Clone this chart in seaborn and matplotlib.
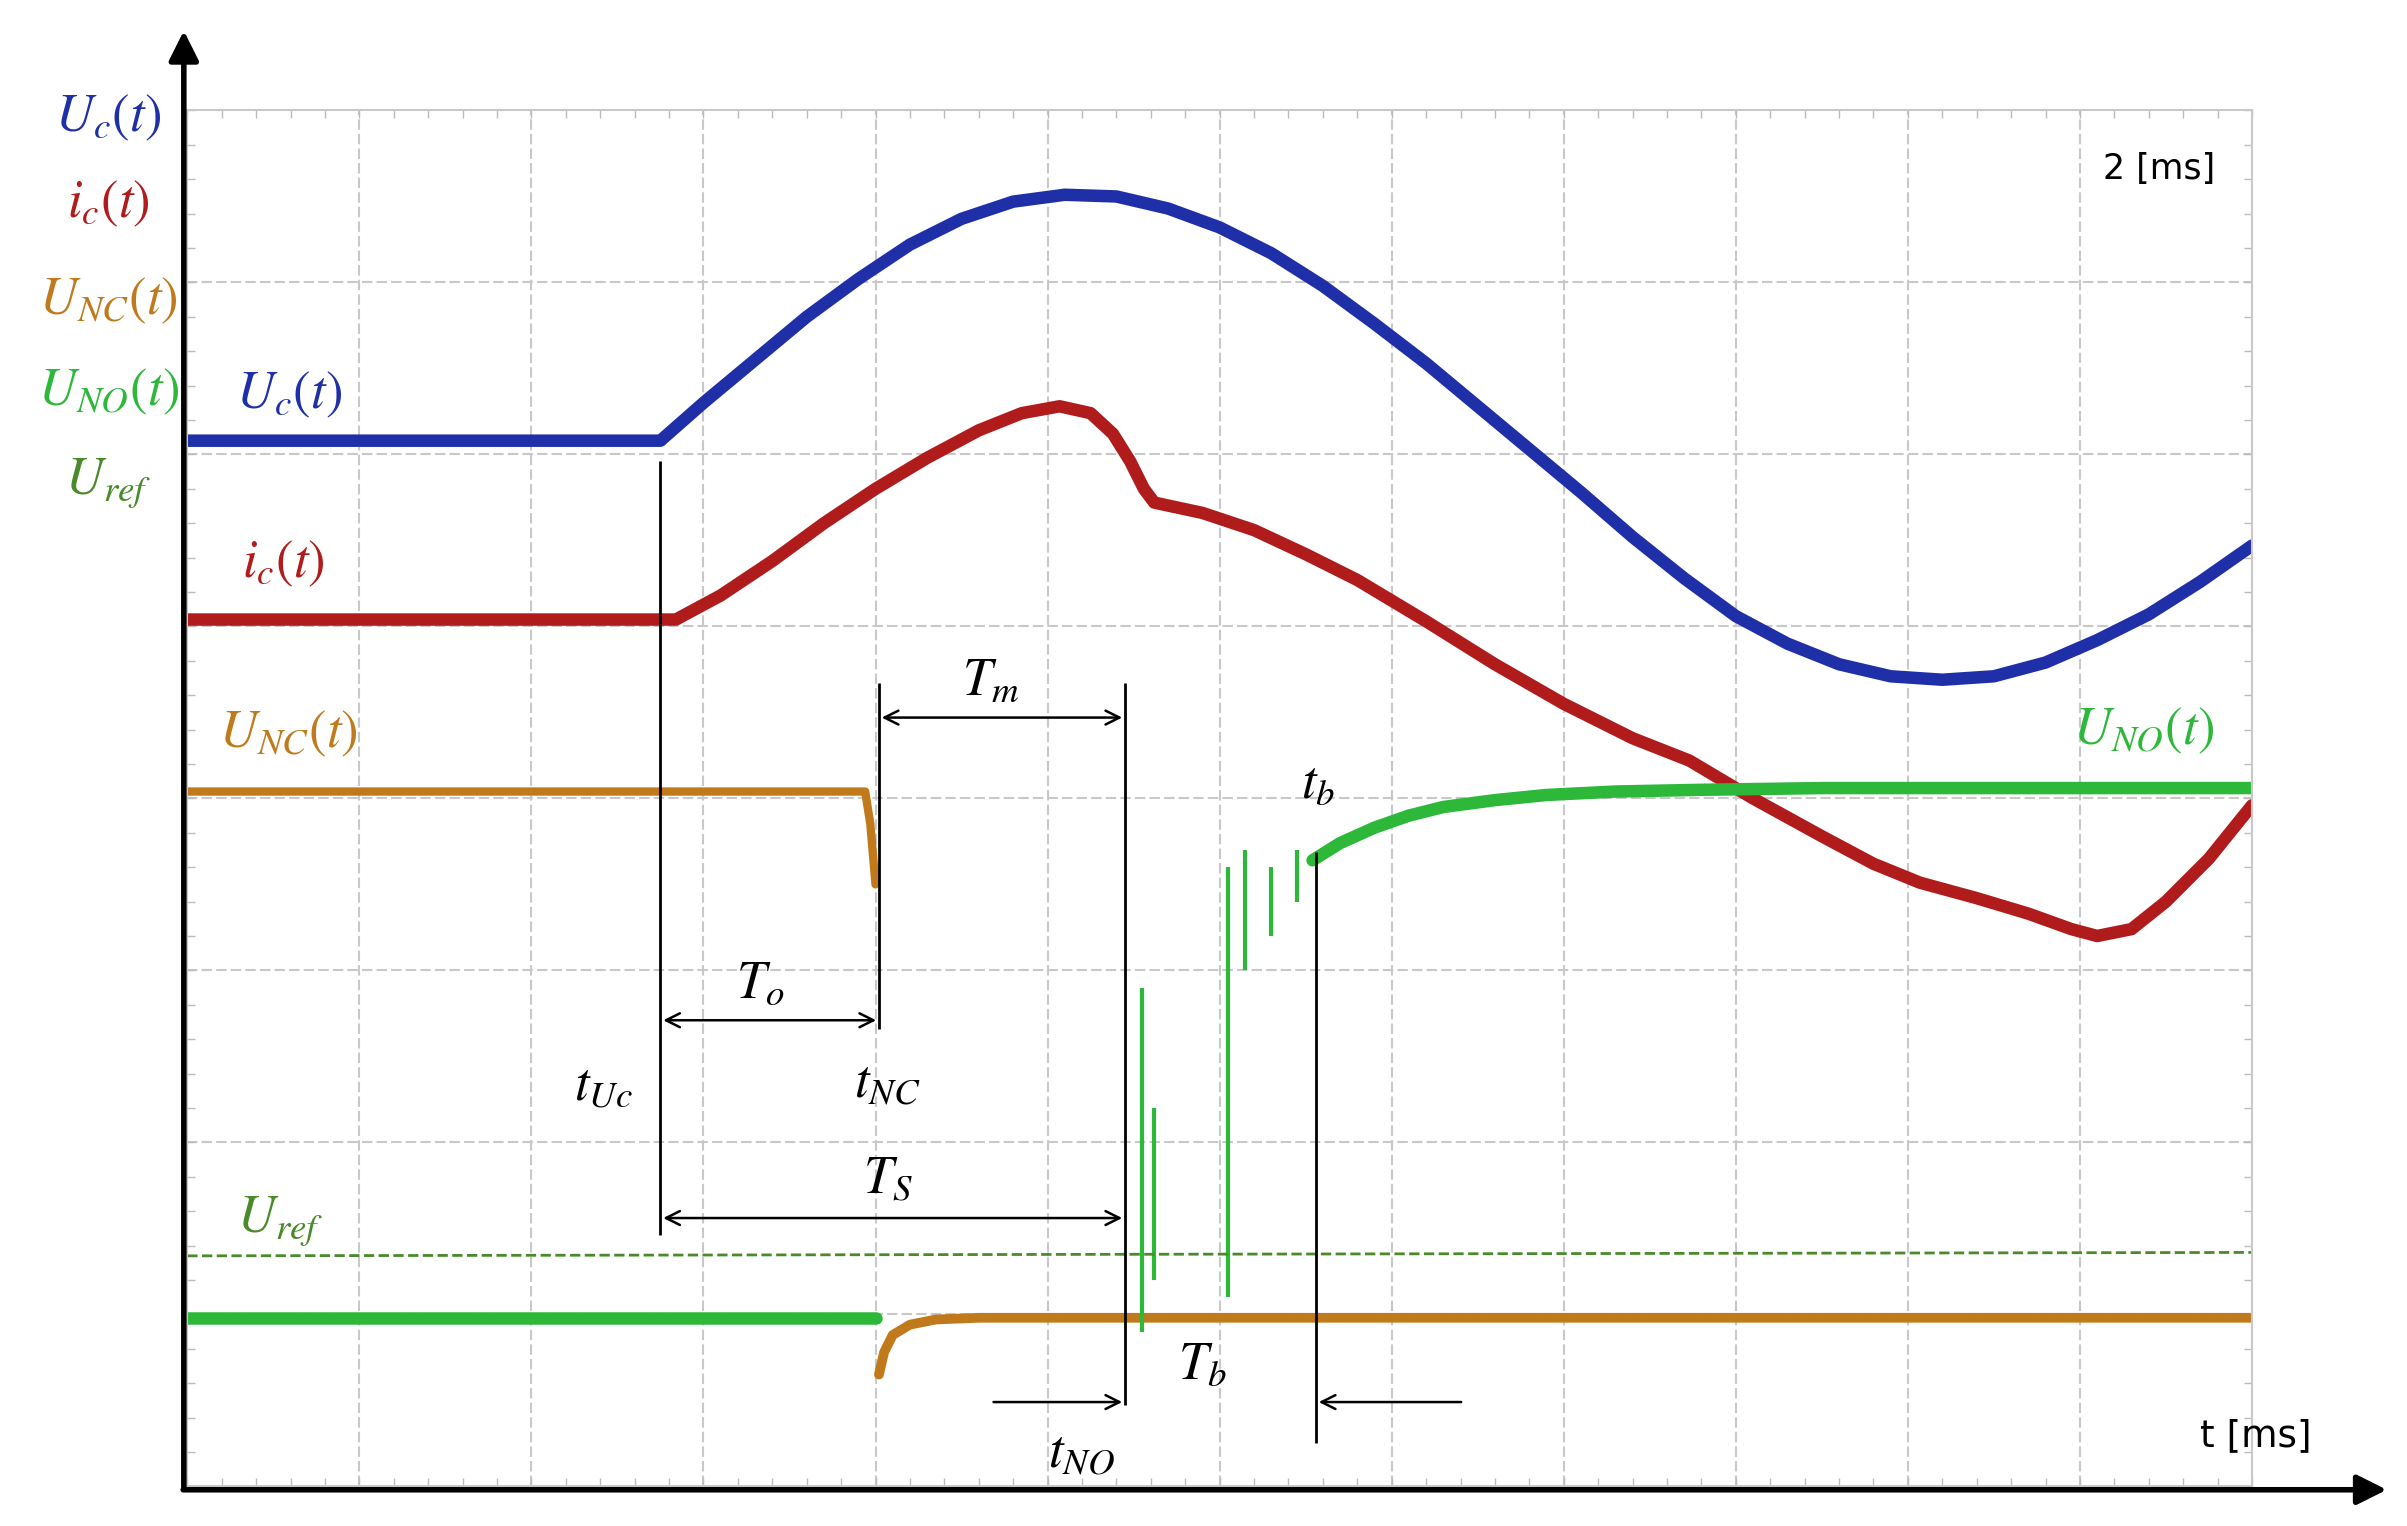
import matplotlib
matplotlib.use("Agg")
import matplotlib.pyplot as plt
import seaborn as sns
import numpy as np

sns.set_theme(style="white")
plt.rcParams['font.family'] = ['DejaVu Sans']
plt.rcParams['mathtext.fontset'] = 'stix'

uc_x = [0, 2.75, 3.0, 3.3, 3.6, 3.9, 4.2, 4.5, 4.8, 5.1, 5.4, 5.7, 6.0, 6.3, 6.6, 6.9, 7.2, 7.5, 7.8, 8.1, 8.4, 8.7, 9.0, 9.3, 9.6, 9.9, 10.2, 10.5, 10.8, 11.1, 11.4, 11.7, 12]
uc_y = [6.08, 6.08, 6.3, 6.55, 6.8, 7.02, 7.22, 7.37, 7.47, 7.51, 7.5, 7.43, 7.32, 7.17, 6.98, 6.76, 6.53, 6.28, 6.03, 5.78, 5.52, 5.28, 5.06, 4.9, 4.78, 4.71, 4.69, 4.71, 4.79, 4.92, 5.07, 5.26, 5.47]
ic_x = [0, 2.84, 3.1, 3.4, 3.7, 4.0, 4.3, 4.6, 4.85, 5.07, 5.25, 5.38, 5.48, 5.56, 5.62, 5.9, 6.2, 6.5, 6.8, 7.2, 7.6, 8.0, 8.4, 8.73, 9.1, 9.5, 9.8, 10.07, 10.4, 10.7, 10.95, 11.1, 11.3, 11.5, 11.75, 12]
ic_y = [5.04, 5.04, 5.18, 5.38, 5.6, 5.8, 5.98, 6.14, 6.24, 6.28, 6.24, 6.12, 5.96, 5.8, 5.72, 5.66, 5.56, 5.42, 5.27, 5.03, 4.78, 4.55, 4.35, 4.22, 4.0, 3.78, 3.62, 3.51, 3.42, 3.33, 3.24, 3.2, 3.24, 3.4, 3.65, 3.96]
unc_hi_x = [0, 3.94, 3.97, 4.0]
unc_hi_y = [4.04, 4.04, 3.85, 3.5]
unc_lo_x = [4.02, 4.05, 4.1, 4.2, 4.35, 4.6, 12]
unc_lo_y = [0.65, 0.78, 0.88, 0.94, 0.97, 0.98, 0.98]
uno_low_x = [0, 4.0]
uno_low_y = [0.98, 0.98]
uno_high_x = [6.54, 6.7, 6.9, 7.1, 7.3, 7.6, 7.9, 8.3, 8.8, 9.5, 12]
uno_high_y = [3.64, 3.74, 3.83, 3.9, 3.95, 3.99, 4.02, 4.04, 4.05, 4.06, 4.06]
spike_x = [5.55, 5.62, 6.05, 6.15, 6.3, 6.45]
spike_lo = [0.9, 1.2, 1.1, 3.0, 3.2, 3.4]
spike_hi = [2.9, 2.2, 3.6, 3.7, 3.6, 3.7]
uref_x = [0, 12]
uref_y = [1.34, 1.36]

C_UC, C_IC, C_NC, C_NO, C_REF = '#1f2fa8', '#b01c1c', '#c07a1c', '#2db83a', '#4a8a2a'

fig = plt.figure(figsize=(24.07, 15.26), dpi=100)
ax = fig.add_axes([0.0778, 0.026, 0.8578, 0.9016])
ax.set_xlim(0, 12)
ax.set_ylim(0, 8)

for v in np.arange(1, 12):
    ax.axvline(v, color='#c8c8c8', lw=1.5, ls=(0, (5, 2)), zorder=0)
for h in np.arange(1, 8):
    ax.axhline(h, color='#c8c8c8', lw=1.5, ls=(0, (5, 2)), zorder=0)
for s in ax.spines.values():
    s.set_color('#c8c8c8'); s.set_linewidth(1.5)
ax.set_xticks(np.arange(0, 12.01, 0.2), minor=True)
ax.set_yticks(np.arange(0, 8.01, 0.2), minor=True)
ax.tick_params(which='minor', direction='in', length=6, color='#bbbbbb', bottom=True, top=True, left=True, right=True)
ax.set_xticks([]); ax.set_yticks([])

sns.lineplot(x=uc_x, y=uc_y, ax=ax, color=C_UC, lw=9, sort=False)
sns.lineplot(x=ic_x, y=ic_y, ax=ax, color=C_IC, lw=9, sort=False)
sns.lineplot(x=uno_low_x, y=uno_low_y, ax=ax, color=C_NO, lw=9, sort=False)
sns.lineplot(x=unc_hi_x, y=unc_hi_y, ax=ax, color=C_NC, lw=6, sort=False)
sns.lineplot(x=unc_lo_x, y=unc_lo_y, ax=ax, color=C_NC, lw=7, sort=False)
sns.lineplot(x=uno_high_x, y=uno_high_y, ax=ax, color=C_NO, lw=9, sort=False)
ax.vlines(spike_x, spike_lo, spike_hi, color=C_NO, lw=3)
sns.lineplot(x=uref_x, y=uref_y, ax=ax, color=C_REF, lw=2, ls='--', sort=False)

ax.vlines([2.75, 4.02, 5.45, 6.56], [1.46, 2.66, 0.47, 0.25], [5.96, 4.67, 4.67, 3.69], color='black', lw=2)
arw = dict(arrowstyle='<->', color='black', lw=1.8, mutation_scale=25)
ax.annotate('', xy=(2.75, 2.71), xytext=(4.02, 2.71), arrowprops=arw)
ax.annotate('', xy=(4.02, 4.47), xytext=(5.45, 4.47), arrowprops=arw)
ax.annotate('', xy=(2.75, 1.56), xytext=(5.45, 1.56), arrowprops=arw)
one = dict(arrowstyle='->', color='black', lw=1.8, mutation_scale=25)
ax.annotate('', xy=(5.45, 0.49), xytext=(4.67, 0.49), arrowprops=one)
ax.annotate('', xy=(6.56, 0.49), xytext=(7.42, 0.49), arrowprops=one)

fs = 38
txt = [(3.33, 2.93, r'$T_o$'), (4.67, 4.69, r'$T_m$'), (4.07, 1.79, r'$T_S$'), (5.9, 0.71, r'$T_b$'),
       (2.42, 2.33, r'$t_{Uc}$'), (4.07, 2.35, r'$t_{NC}$'), (5.2, 0.2, r'$t_{NO}$'), (6.57, 4.09, r'$t_b$')]
for x, y, s in txt:
    ax.text(x, y, s, fontsize=fs, ha='center', va='center', color='black')
ax.text(0.59, 6.35, r'$U_c(t)$', fontsize=fs, ha='center', va='center', color=C_UC)
ax.text(0.56, 5.37, r'$i_c(t)$', fontsize=fs, ha='center', va='center', color=C_IC)
ax.text(0.59, 4.38, r'$U_{NC}(t)$', fontsize=fs, ha='center', va='center', color=C_NC)
ax.text(11.37, 4.4, r'$U_{NO}(t)$', fontsize=fs, ha='center', va='center', color=C_NO)
ax.text(0.54, 1.54, r'$U_{ref}$', fontsize=fs, ha='center', va='center', color=C_REF)

left = [(7.96, r'$U_c(t)$', C_UC), (7.46, r'$i_c(t)$', C_IC), (6.9, r'$U_{NC}(t)$', C_NC),
        (6.37, r'$U_{NO}(t)$', C_NO), (5.83, r'$U_{ref}$', C_REF)]
for y, s, c in left:
    ax.text(-0.46, y, s, fontsize=fs, ha='center', va='center', color=c, clip_on=False)

ax.text(11.46, 7.66, '2 [ms]', fontsize=25, ha='center', va='center', color='black')
ax.text(12.02, 0.29, 't [ms]', fontsize=27, ha='center', va='center', color='black', clip_on=False)

big = dict(arrowstyle='-|>', color='black', lw=4, mutation_scale=45)
ax.annotate('', xy=(-0.02, 8.48), xytext=(-0.02, -0.02), arrowprops=big, annotation_clip=False)
ax.annotate('', xy=(12.8, -0.02), xytext=(-0.04, -0.02), arrowprops=big, annotation_clip=False)

fig.savefig('out.png', dpi=100)
